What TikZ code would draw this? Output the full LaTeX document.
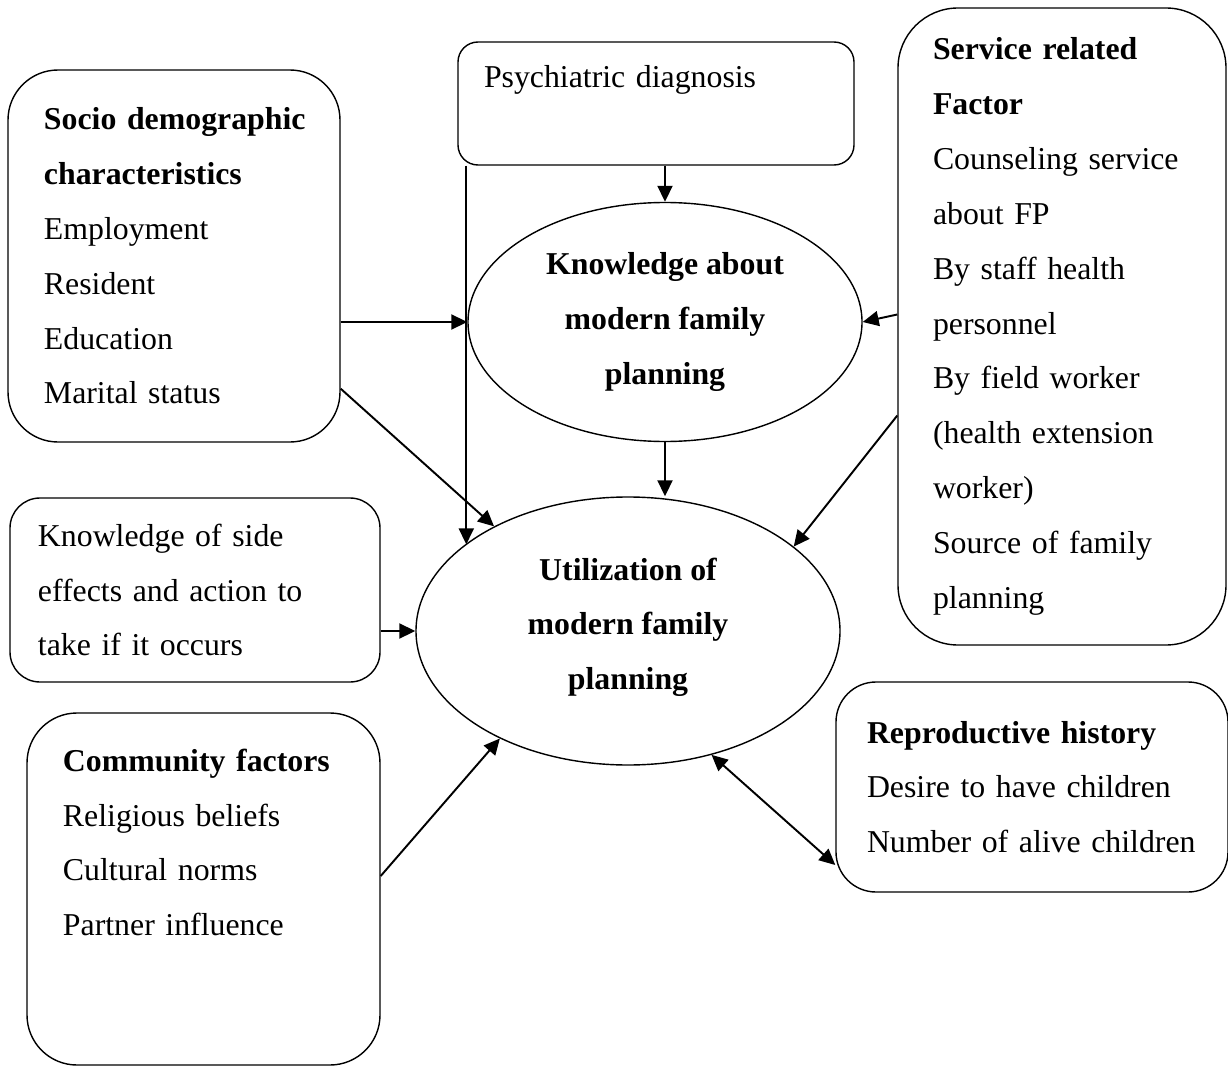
\documentclass[tikz,border=0pt]{standalone}
\usepackage{fontspec}
\setmainfont{Liberation Serif}
\usetikzlibrary{arrows.meta,shapes.geometric,positioning,calc}

\begin{document}
\begin{tikzpicture}
%defines
  [x=0.2mm,y=-0.2mm,
font=\fontsize{18.1}{31.2}\selectfont,
box/.style={draw,line width=0.8pt,align=left,inner ysep=0pt},
oval/.style={ellipse,draw,line width=0.8pt,align=center,
font=\fontsize{18.1}{31.2}\selectfont\bfseries,inner sep=0pt},
>={Triangle[length=3.2mm,width=3mm]},
post/.style={->,line width=1.1pt},
both/.style={<->,line width=1.1pt}]
\useasboundingbox (0,0) rectangle (1228,1068);
% boxes
\node[box,text width=52mm,inner xsep=7.2mm,minimum height=74.4mm,
rounded corners=10mm] (socio) at (174,256)
{\mbox{\textbf{Socio demographic}}\\ \textbf{characteristics}\\ Employment\\
Resident\\ Education\\ Marital status};
\node[box,text width=68.8mm,inner xsep=5.2mm,minimum height=24.6mm,
rounded corners=4mm] (psych) at (656,103.5)
{Psychiatric diagnosis\\ \mbox{}};
\node[box,text width=51.6mm,inner xsep=7mm,minimum height=127.4mm,
rounded corners=12mm] (serv) at (1062,326.5)
{\textbf{Service related}\\ \textbf{Factor}\\ \mbox{Counseling service}\\ about FP\\
By staff health\\ personnel\\ By field worker\\ \mbox{(health extension}\\ worker)\\
Source of family\\ planning};
\node[box,text width=62.8mm,inner xsep=5.6mm,minimum height=36.8mm,
rounded corners=6mm] (side) at (195,590)
{Knowledge of side\\ \mbox{effects and action to}\\ take if it occurs};
\node[box,text width=56.2mm,inner xsep=7.2mm,minimum height=70.4mm,
rounded corners=10mm] (comm) at (203.5,889)
{\mbox{\textbf{Community factors}}\\ Religious beliefs\\ Cultural norms\\
Partner influence\\[22pt] \mbox{}};
\node[box,text width=66mm,inner xsep=6.2mm,minimum height=42mm,
rounded corners=8mm] (repro) at (1032,787)
{\mbox{\textbf{Reproductive history}}\\ Desire to have children\\
\mbox{Number of alive children}};
% ovals
\node[oval,minimum width=78.8mm,minimum height=47.8mm] (know) at (665,322)
{Knowledge about\\ modern family\\ planning};
\node[oval,minimum width=84.8mm,minimum height=53.6mm] (util) at (628,631)
{Utilization of\\ modern family\\ planning\\[-23pt]\mbox{}};
% links
\coordinate (psychfoot) at ($(psych.south west)+(9,0)$);
\draw[post] (psych.south -| know.north) -- (know.north);
\draw[post] (psychfoot) -- (psychfoot |- util.152);
\draw[post] (socio.east |- know.west) -- (know.west);
\draw[post] ($(socio.south east)+(0,-54)$) -- (util.142);
\draw[post] (know.south) -- (know.south |- util.north);
\draw[post] ($(serv.west)+(0,-12)$) -- (know.east);
\draw[post] ($(serv.west)+(0,89)$) -- (util.27);
\draw[post] (side.east |- util.west) -- (util.west);
\draw[post] ($(comm.east)+(0,-13)$) -- (util.220);
\draw[both] (util.304) -- ($(repro.west)+(0,78)$);
\end{tikzpicture}
\end{document}
